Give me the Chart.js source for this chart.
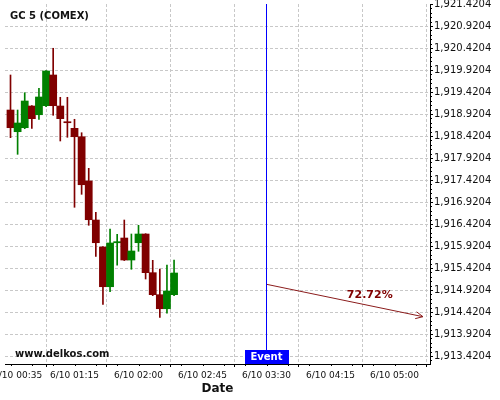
<!DOCTYPE html>
<html>
<head>
<meta charset="utf-8">
<script src="https://cdn.jsdelivr.net/npm/chart.js@4.4.1/dist/chart.umd.min.js"></script>
<style>
  html, body { margin: 0; padding: 0; background: #fff; }
</style>
</head>
<body>
<canvas id="candleChart" width="500" height="400"></canvas>
<script>
// 5 minute candles, 6/10
const times  = ["00:30","00:35","00:40","00:45","00:50","00:55","01:00","01:05","01:10","01:15","01:20","01:25",
                "01:30","01:35","01:40","01:45","01:50","01:55","02:00","02:05","02:10","02:15","02:20","02:25"];
const opens  = [1919.011,1918.518,1918.609,1919.102,1918.904,1919.109,1919.807,1919.102,1918.745,1918.595,1918.404,1917.398,
                1916.511,1915.898,1914.995,1915.994,1916.102,1915.602,1915.995,1916.193,1915.314,1914.814,1914.495,1914.814];
const highs  = [1919.807,1919.011,1919.404,1919.110,1919.504,1919.910,1920.414,1919.300,1919.300,1918.800,1918.495,1917.686,
                1916.686,1915.905,1916.307,1916.186,1916.511,1916.193,1916.391,1916.200,1915.595,1915.398,1915.489,1915.602];
const lows   = [1918.382,1918.004,1918.586,1918.595,1918.800,1919.086,1918.891,1918.307,1918.391,1916.800,1917.095,1916.391,
                1915.686,1914.595,1914.882,1915.482,1915.590,1915.391,1915.800,1915.170,1914.791,1914.300,1914.391,1914.791];
const closes = [1918.609,1918.716,1919.216,1918.814,1919.307,1919.898,1919.109,1918.814,1918.722,1918.404,1917.313,1916.518,
                1915.995,1914.995,1915.989,1916.019,1915.602,1915.807,1916.193,1915.314,1914.814,1914.495,1914.898,1915.307];

const xTickTimes  = ["00:35","01:15","02:00","02:45","03:30","04:15","05:00"];
const xTickLabels = ["6/10 00:35","6/10 01:15","6/10 02:00","6/10 02:45","6/10 03:30","6/10 04:15","6/10 05:00"];
const yTicks = [1913.4204,1913.9204,1914.4204,1914.9204,1915.4204,1915.9204,1916.4204,1916.9204,1917.4204,
                1917.9204,1918.4204,1918.9204,1919.4204,1919.9204,1920.4204,1920.9204,1921.4204];

const eventTime = "03:30";
const forecastTimes  = ["03:30","05:20"];
const forecastValues = [1915.050, 1914.314];
const forecastLabel  = "72.72%";

const chartTitle = "GC 5 (COMEX)";
const watermark  = "www.delkos.com";

const FONT = "'DejaVu Sans', sans-serif";
const UP = "#008000", DOWN = "#800000";
const Y_MIN = 1913.2386, Y_MAX = 1921.4204;
const X_MIN = 26.13, X_MAX = 324.96;

function toMin(t) {
  const p = t.split(":");
  return (+p[0]) * 60 + (+p[1]);
}

const candleColors = opens.map((o, i) => closes[i] >= o ? UP : DOWN);

// arrowhead, labels, event box, minor ticks
const overlay = {
  id: "overlay",
  afterDraw(chart) {
    const c = chart.ctx;
    const xs = chart.scales.x, ys = chart.scales.y;
    const area = chart.chartArea;
    c.save();

    // minor ticks
    c.strokeStyle = "#000";
    c.lineWidth = 1;
    c.beginPath();
    for (let k = 0; k < yTicks.length; k++) {
      for (let m = 1; m < 5; m++) {
        const v = yTicks[k] - m * 0.1;
        if (v < Y_MIN) continue;
        const py = Math.round(ys.getPixelForValue(v)) + 0.5;
        c.moveTo(area.right, py);
        c.lineTo(area.right + 2, py);
      }
    }
    for (let t = 30; t < X_MAX; t += 15) {
      if (t < X_MIN) continue;
      const px = Math.round(xs.getPixelForValue(t)) + 0.5;
      c.moveTo(px, area.bottom);
      c.lineTo(px, area.bottom + 2);
    }
    c.stroke();

    // forecast arrow head + label
    const x1 = xs.getPixelForValue(toMin(forecastTimes[0])), y1 = ys.getPixelForValue(forecastValues[0]);
    const x2 = xs.getPixelForValue(toMin(forecastTimes[1])), y2 = ys.getPixelForValue(forecastValues[1]);
    const ang = Math.atan2(y2 - y1, x2 - x1);
    c.strokeStyle = "#8b1c1c";
    c.beginPath();
    c.moveTo(x2 - 8 * Math.cos(ang - 0.45), y2 - 8 * Math.sin(ang - 0.45));
    c.lineTo(x2, y2);
    c.lineTo(x2 - 8 * Math.cos(ang + 0.45), y2 - 8 * Math.sin(ang + 0.45));
    c.stroke();

    c.fillStyle = "#800000";
    c.font = "bold 11px " + FONT;
    c.textAlign = "center";
    c.textBaseline = "middle";
    c.fillText(forecastLabel, x1 + (x2 - x1) * 0.66, y1 + (y2 - y1) * 0.66 - 11);

    // event tag
    const ex = xs.getPixelForValue(toMin(eventTime));
    c.fillStyle = "#0000ff";
    c.fillRect(Math.round(ex) - 22, area.bottom - 14, 44, 14);
    c.fillStyle = "#fff";
    c.font = "bold 10px " + FONT;
    c.fillText("Event", ex, area.bottom - 6.5);

    // title + watermark
    c.fillStyle = "#111";
    c.textAlign = "left";
    c.textBaseline = "alphabetic";
    c.fillText(chartTitle, 10, 19);
    c.fillText(watermark, 15, 357);
    c.restore();
  }
};

new Chart(document.getElementById("candleChart").getContext("2d"), {
  data: {
    datasets: [
      {
        type: "bar",
        label: "wick",
        data: times.map((t, i) => ({ x: toMin(t), y: [lows[i], highs[i]] })),
        backgroundColor: candleColors,
        barThickness: 1,
        grouped: false,
        borderWidth: 0
      },
      {
        type: "bar",
        label: "body",
        data: times.map((t, i) => ({ x: toMin(t), y: [opens[i], closes[i]] })),
        backgroundColor: candleColors,
        categoryPercentage: 1,
        barPercentage: 1,
        grouped: false,
        borderWidth: 0
      },
      {
        type: "line",
        label: "event",
        data: [{ x: toMin(eventTime), y: Y_MIN }, { x: toMin(eventTime), y: Y_MAX }],
        borderColor: "#0000ff",
        borderWidth: 1,
        pointRadius: 0
      },
      {
        type: "line",
        label: "forecast",
        data: forecastTimes.map((t, i) => ({ x: toMin(t), y: forecastValues[i] })),
        borderColor: "#8b1c1c",
        borderWidth: 1,
        pointRadius: 0
      }
    ]
  },
  options: {
    responsive: false,
    animation: false,
    devicePixelRatio: 1,
    layout: { padding: { left: 5, top: 4, right: 0, bottom: 0 } },
    plugins: { legend: { display: false }, tooltip: { enabled: false } },
    scales: {
      x: {
        type: "linear",
        min: X_MIN,
        max: X_MAX,
        offset: false,
        afterBuildTicks: s => { s.ticks = xTickTimes.map(t => ({ value: toMin(t) })); },
        afterFit: s => { s.height = 36; s.paddingLeft = 0; s.paddingRight = 0; },
        ticks: {
          autoSkip: false,
          maxRotation: 0,
          padding: 3,
          color: "#111",
          font: { family: FONT, size: 9 },
          callback: (v, i) => xTickLabels[i]
        },
        grid: { color: "#c8c8c8", tickColor: "#000", tickLength: 3, tickBorderDash: [] },
        border: { display: true, color: "#000", dash: [3, 2] },
        title: {
          display: true,
          text: "Date",
          color: "#111",
          font: { family: FONT, size: 12, weight: "bold" },
          padding: { top: 0, bottom: 4 }
        }
      },
      y: {
        position: "right",
        min: Y_MIN,
        max: Y_MAX,
        afterBuildTicks: s => { s.ticks = yTicks.map(v => ({ value: v })); },
        afterFit: s => { s.width = 70; s.paddingTop = 0; s.paddingBottom = 0; },
        ticks: {
          padding: 1,
          color: "#111",
          font: { family: FONT, size: 10 },
          callback: v => v.toLocaleString("en-US", { minimumFractionDigits: 4, maximumFractionDigits: 4 })
        },
        grid: {
          color: c => (c.tick && c.tick.value === Y_MAX) ? "rgba(0,0,0,0)" : "#c8c8c8",
          tickColor: "#000",
          tickLength: 3,
          tickBorderDash: []
        },
        border: { display: true, color: "#000", dash: [3, 2] }
      }
    }
  },
  plugins: [overlay]
});
</script>
</body>
</html>
